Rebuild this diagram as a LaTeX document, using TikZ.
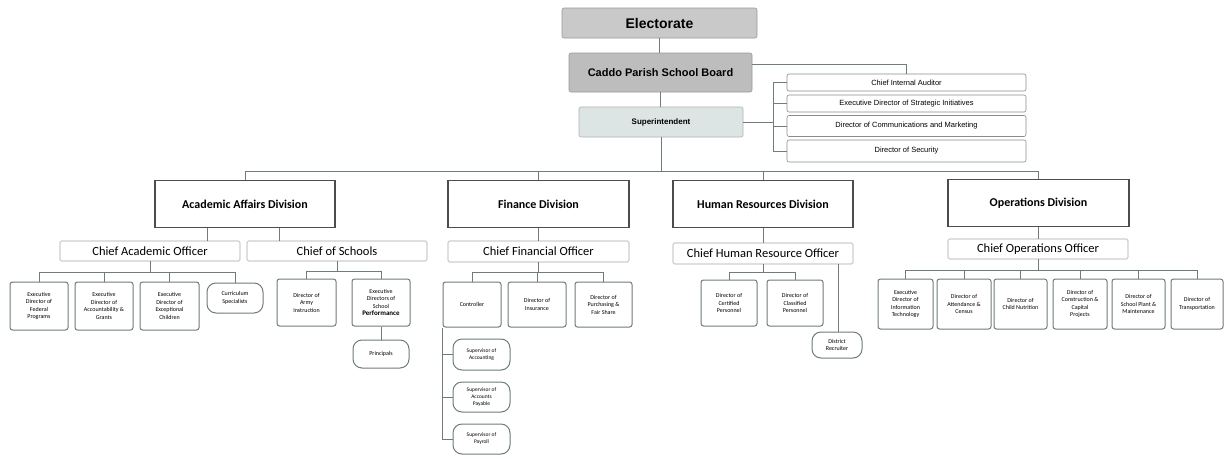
\documentclass[tikz,border=0pt]{standalone}
\usepackage{fontspec}
\setmainfont{Carlito}
\newfontfamily\arialf{Liberation Sans}
\definecolor{lc}{HTML}{6E7C7A}
\definecolor{topfill}{HTML}{C9C9C9}
\definecolor{boardfill}{HTML}{BDBDBD}
\definecolor{supfill}{HTML}{DDE4E4}
\begin{document}
\begin{tikzpicture}[x=1pt,y=-1pt,
  ln/.style={draw=lc, line width=0.8pt},
  topbox/.style={draw=black!40, line width=0.6pt, fill=topfill, rounded corners=2pt, inner sep=0pt, font=\arialf\bfseries},
  staff/.style={draw=black!45, line width=0.6pt, fill=white, rounded corners=2pt, inner sep=0pt, font=\arialf\fontsize{7.5}{9}\selectfont},
  divbox/.style={draw=black!70, line width=1.1pt, fill=white, inner sep=0pt, font=\bfseries\fontsize{12}{14}\selectfont},
  chief/.style={draw=black!35, line width=0.6pt, fill=white, rounded corners=1.5pt, inner sep=0pt, font=\fontsize{12.5}{14}\selectfont},
  leaf/.style={draw=lc, line width=1pt, fill=white, rounded corners=2.5pt, inner sep=1pt, align=center, font=\fontsize{6}{7.5}\selectfont},
  pill/.style={leaf, rounded corners=9pt},
]
\useasboundingbox (0,0) rectangle (1225,458);
\fill[white] (0,0) rectangle (1225,458);

% top
\node[topbox, minimum width=195pt, minimum height=30pt, font=\arialf\bfseries\fontsize{14}{16}\selectfont] (elec) at (659.5,23) {Electorate};
\node[topbox, fill=boardfill, minimum width=183pt, minimum height=39pt, font=\arialf\bfseries\fontsize{11}{13}\selectfont] (board) at (660.5,72.5) {Caddo Parish School Board};
\node[topbox, fill=supfill, draw=black!30, minimum width=164pt, minimum height=30pt, font=\arialf\bfseries\fontsize{8}{10}\selectfont] (sup) at (661,122) {Superintendent};

% staff
\node[staff, minimum width=239pt, minimum height=17pt] (aud) at (906.5,82.5) {Chief Internal Auditor};
\node[staff, minimum width=239pt, minimum height=17pt] (str) at (906.5,103.5) {Executive Director of Strategic Initiatives};
\node[staff, minimum width=239pt, minimum height=21pt] (com) at (906.5,126) {Director of Communications and Marketing};
\node[staff, minimum width=239pt, minimum height=22pt] (sec) at (906.5,151) {Director of Security};

% divisions
\node[divbox, minimum width=180pt, minimum height=47pt] (acad) at (245,204) {Academic Affairs Division};
\node[divbox, minimum width=181pt, minimum height=47pt] (fin) at (538.5,204) {Finance Division};
\node[divbox, minimum width=180pt, minimum height=47pt] (hr) at (763,204) {Human Resources Division};
\node[divbox, minimum width=181pt, minimum height=47pt] (ops) at (1038.5,203) {Operations Division};

% chiefs
\node[chief, minimum width=180pt, minimum height=20pt] (cao) at (150,251) {Chief Academic Officer};
\node[chief, minimum width=180pt, minimum height=20pt] (cos) at (337,251) {Chief of Schools};
\node[chief, minimum width=181pt, minimum height=21pt] (cfo) at (538.5,251.5) {Chief Financial Officer};
\node[chief, minimum width=180pt, minimum height=21pt] (chro) at (763,253.5) {Chief Human Resource Officer};
\node[chief, minimum width=180pt, minimum height=20pt] (coo) at (1038,249) {Chief Operations Officer};

% academic leaves
\node[leaf, minimum width=58pt, minimum height=48pt] (fed) at (39,306) {Executive\\Director of\\Federal\\Programs};
\node[leaf, minimum width=58pt, minimum height=48pt] (acct) at (104,306) {Executive\\Director of\\Accountability \&\\Grants};
\node[leaf, minimum width=59pt, minimum height=48pt] (exc) at (169.5,306) {Executive\\Director of\\Exceptional\\Children};
\node[pill, minimum width=56pt, minimum height=30pt] (curr) at (235,298) {Curriculum\\Specialists};
\node[leaf, minimum width=59pt, minimum height=47pt] (army) at (306.5,302.5) {Director of\\Army\\Instruction};
\node[leaf, minimum width=58pt, minimum height=47pt] (edsp) at (381,302.5) {Executive\\Directors of\\School\\{\fontsize{7}{8}\selectfont\bfseries Performance}};
\node[pill, minimum width=56pt, minimum height=28pt] (prin) at (381,354) {Principals};

% finance leaves
\node[leaf, minimum width=58pt, minimum height=45pt] (ctrl) at (472,304.5) {Controller};
\node[leaf, minimum width=58pt, minimum height=45pt] (ins) at (537,304.5) {Director of\\Insurance};
\node[leaf, minimum width=57pt, minimum height=45pt] (pur) at (603.5,304.5) {Director of\\Purchasing \&\\Fair Share};
\node[pill, minimum width=57pt, minimum height=31pt, font=\fontsize{5.5}{7}\selectfont] (sacc) at (481.5,354.5) {Supervisor of\\Accounting};
\node[pill, minimum width=57pt, minimum height=30pt, font=\fontsize{5.5}{7}\selectfont] (sap) at (481.5,397) {Supervisor of\\Accounts\\Payable};
\node[pill, minimum width=57pt, minimum height=30pt, font=\fontsize{5.5}{7}\selectfont] (spay) at (481.5,439) {Supervisor of\\Payroll};

% HR leaves
\node[leaf, minimum width=56pt, minimum height=46pt] (cert) at (729,303) {Director of\\Certified\\Personnel};
\node[leaf, minimum width=56pt, minimum height=46pt] (clas) at (795,303) {Director of\\Classified\\Personnel};
\node[pill, minimum width=50pt, minimum height=26pt] (recr) at (837,345) {District\\Recruiter};

% ops leaves
\node[leaf, minimum width=55pt, minimum height=50pt] (it) at (905.5,304) {Executive\\Director of\\Information\\Technology};
\node[leaf, minimum width=54pt, minimum height=50pt] (att) at (964,304) {Director of\\Attendance \&\\Census};
\node[leaf, minimum width=53pt, minimum height=50pt] (cn) at (1020.5,304) {Director of\\Child Nutrition};
\node[leaf, minimum width=54pt, minimum height=50pt] (cons) at (1080,304) {Director of\\Construction \&\\Capital\\Projects};
\node[leaf, minimum width=53pt, minimum height=50pt] (sp) at (1138.5,304) {Director of\\School Plant \&\\Maintenance};
\node[leaf, minimum width=52pt, minimum height=50pt] (tr) at (1197,304) {Director of\\Transportation};

% coordinates
\coordinate (busy) at (0,171);
\coordinate (brx) at (773,0);
\coordinate (a1) at (207,0);
\coordinate (a2) at (279,0);
\coordinate (sbA) at (0,272);
\coordinate (sbS) at (0,271);
\coordinate (sbF) at (0,272);
\coordinate (sbH) at (0,272);
\coordinate (sbO) at (0,270);
\coordinate (rx) at (838,0);

% connectors top
\draw[ln] (elec.south) -- (elec.south |- board.north);
\draw[ln] (board.south) -- (board.south |- sup.north);
\draw[ln] ([yshift=8.5pt]board.east) -| (aud.north);
\draw[ln] (sup.east) -- (sup.east -| brx);
\draw[ln] (aud.west -| brx) -- (sec.west -| brx);
\draw[ln] (aud.west -| brx) -- (aud.west);
\draw[ln] (str.west -| brx) -- (str.west);
\draw[ln] (com.west -| brx) -- (com.west);
\draw[ln] (sec.west -| brx) -- (sec.west);
\draw[ln] (sup.south) -- (sup.south |- busy);
\draw[ln] (acad.north) -- (acad.north |- busy) -- (ops.north |- busy) -- (ops.north);
\draw[ln] (fin.north) -- (fin.north |- busy);
\draw[ln] (hr.north) -- (hr.north |- busy);

% division to chiefs
\draw[ln] (acad.south -| a1) -- (cao.north -| a1);
\draw[ln] (acad.south -| a2) -- (cos.north -| a2);
\draw[ln] (fin.south) -- (fin.south |- cfo.north);
\draw[ln] (hr.south) -- (hr.south |- chro.north);
\draw[ln] (ops.south) -- (ops.south |- coo.north);

% academic subtree
\draw[ln] (cao.south) -- (cao.south |- sbA);
\draw[ln] (fed.north) -- (fed.north |- sbA) -- (curr.north |- sbA) -- (curr.north);
\draw[ln] (acct.north) -- (acct.north |- sbA);
\draw[ln] (exc.north) -- (exc.north |- sbA);
\draw[ln] (cos.south) -- (cos.south |- sbS);
\draw[ln] (army.north) -- (army.north |- sbS) -- (edsp.north |- sbS) -- (edsp.north);
\draw[ln] (edsp.south) -- (prin.north);

% finance subtree
\draw[ln] (cfo.south) -- (cfo.south |- sbF);
\draw[ln] (ctrl.north) -- (ctrl.north |- sbF) -- (pur.north |- sbF) -- (pur.north);
\draw[ln] (ins.north) -- (ins.north |- sbF);
\draw[ln] (ctrl.south west) -- (ctrl.south west |- spay.west) -- (spay.west);
\draw[ln] (ctrl.south west |- sacc.west) -- (sacc.west);
\draw[ln] (ctrl.south west |- sap.west) -- (sap.west);

% HR subtree
\draw[ln] (chro.south) -- (chro.south |- sbH);
\draw[ln] (cert.north) -- (cert.north |- sbH) -- (clas.north |- sbH) -- (clas.north);
\draw[ln] (chro.south -| rx) -- (recr.north -| rx);

% ops subtree
\draw[ln] (coo.south) -- (coo.south |- sbO);
\draw[ln] (it.north) -- (it.north |- sbO) -- (tr.north |- sbO) -- (tr.north);
\draw[ln] (att.north) -- (att.north |- sbO);
\draw[ln] (cn.north) -- (cn.north |- sbO);
\draw[ln] (cons.north) -- (cons.north |- sbO);
\draw[ln] (sp.north) -- (sp.north |- sbO);
\end{tikzpicture}
\end{document}
